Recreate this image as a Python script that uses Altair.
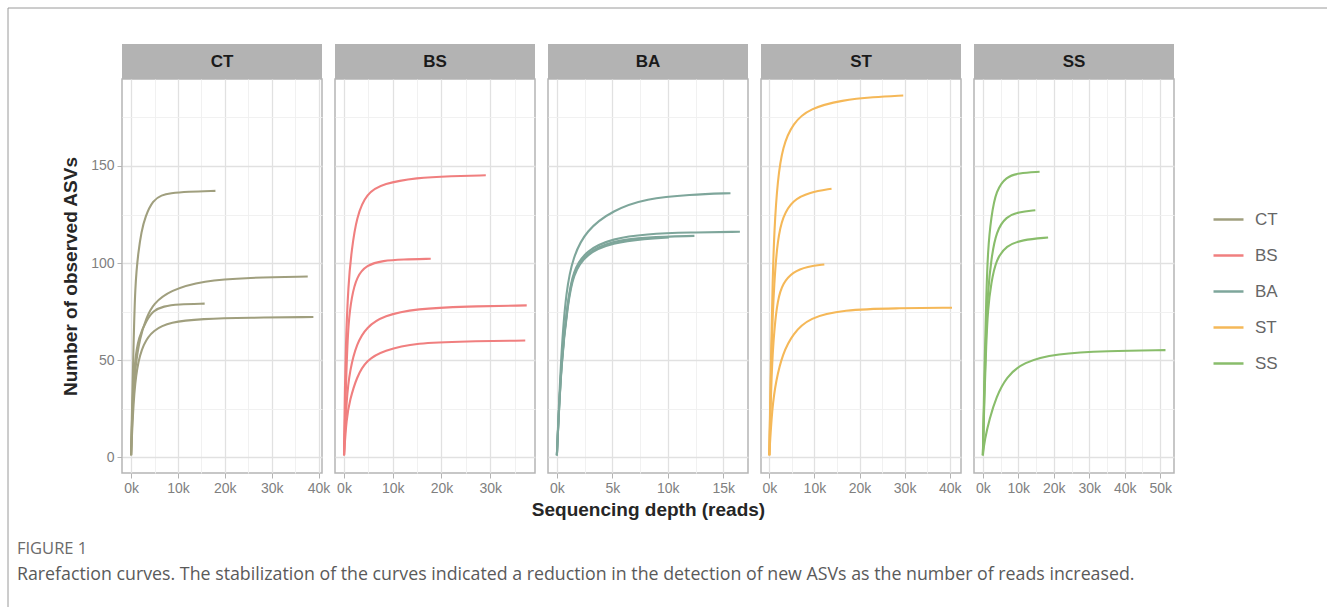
import altair as alt
import pandas as pd

groups = ["CT", "BS", "BA", "ST", "SS"]
colors = ["#a09f7e", "#f07f7f", "#7ea69b", "#f5b858", "#89bd6b"]

# ---- rarefaction curves: depth (thousand reads) and observed ASVs ----
ct1_k = [0, 0.2, 0.5, 0.85, 1.55, 2.2, 3.0, 4.7, 6.5, 8.3, 12, 18.0]
ct1_v = [1, 25, 55, 89, 106, 116, 124, 132.5, 135, 136, 136.8, 137.2]
ct2_k = [0, 0.3, 0.85, 1.9, 3.3, 4.7, 8.3, 15.4, 25, 37.7]
ct2_v = [1, 25, 46.5, 62, 72, 79, 86, 91, 92.5, 93.1]
ct3_k = [0, 0.3, 0.8, 1.6, 3.3, 4.7, 6.9, 10, 15.7]
ct3_v = [1, 30, 50, 62, 70.5, 75.5, 77.8, 78.8, 79.1]
ct4_k = [0, 0.5, 1.2, 2.6, 4.7, 8.3, 15, 25, 38.9]
ct4_v = [1, 29, 46.5, 58.6, 65.5, 69.7, 71.3, 71.9, 72.2]

bs1_k = [0, 0.15, 0.35, 0.88, 1.56, 2.6, 4.6, 8.1, 14.9, 22, 29.1]
bs1_v = [1, 30, 57, 89.5, 106.7, 124, 136, 141, 144, 144.8, 145.2]
bs2_k = [0, 0.5, 0.88, 1.56, 2.6, 4.6, 8, 12, 17.8]
bs2_v = [1, 46.5, 69, 82.6, 93, 99, 101.3, 101.9, 102.2]
bs3_k = [0, 0.5, 1.2, 2.6, 4.6, 8.1, 14.9, 25, 37.5]
bs3_v = [1, 30, 45, 58.6, 67, 73, 76.6, 77.7, 78.2]
bs4_k = [0, 0.5, 1.2, 2.6, 4.6, 8.1, 14.9, 25, 37.2]
bs4_v = [1, 20, 29.4, 41.4, 50, 55, 59, 59.7, 60.1]

ba1_k = [0, 0.39, 0.84, 1.44, 2.64, 5.05, 8.05, 12, 15.65]
ba1_v = [1, 55, 86, 103, 117, 127.3, 133.3, 135.3, 136]
ba2_k = [0, 0.4, 1.0, 1.44, 2.64, 5.05, 8, 12, 16.5]
ba2_v = [1, 52, 81, 96, 106.7, 112.7, 115, 115.8, 116.1]
ba3_k = [0, 0.4, 1.0, 1.44, 2.64, 5.05, 8, 12.4]
ba3_v = [1, 51, 80, 95, 105.5, 111.5, 113.3, 114]
ba4_k = [0, 0.4, 1.0, 1.44, 2.64, 5.05, 8, 10.1]
ba4_v = [1, 50, 79, 94, 105, 110.5, 112.6, 113.2]

st1_k = [0, 0.4, 0.74, 1.1, 1.84, 2.95, 5.2, 8.9, 16.3, 23, 29.7]
st1_v = [1, 55, 91, 117, 142.8, 160, 172, 179.7, 184, 185.5, 186.3]
st2_k = [0, 0.5, 1.1, 1.84, 2.95, 5.2, 8.9, 13.8]
st2_v = [1, 60, 91, 112, 124, 132.5, 136.5, 138.3]
st3_k = [0, 0.5, 1.1, 1.84, 2.95, 5.2, 8.5, 12.2]
st3_v = [1, 45, 66, 81, 89.5, 95.5, 98.3, 99.3]
st4_k = [0, 0.6, 1.5, 2.95, 5.2, 8.9, 16.3, 28, 40.5]
st4_v = [1, 25, 39.7, 53.3, 63.7, 72, 76, 76.8, 77]

ss1_k = [0, 0.5, 0.94, 1.4, 2.35, 3.75, 6.6, 10, 16]
ss1_v = [1, 50, 81, 106.7, 124, 137.6, 144.5, 146.3, 147]
ss2_k = [0, 0.5, 0.94, 1.4, 2.35, 3.75, 6.6, 10, 14.8]
ss2_v = [1, 40, 66, 85, 102, 116.5, 124, 126.3, 127.2]
ss3_k = [0, 0.5, 0.94, 1.4, 2.35, 3.75, 6.6, 11, 18.4]
ss3_v = [1, 35, 58, 76, 90, 102, 109, 112, 113.2]
ss4_k = [0, 0.5, 1.9, 3.75, 6.6, 11.3, 20.7, 35, 51.5]
ss4_v = [1, 9, 20, 31, 41.4, 49, 53.4, 54.8, 55.2]

curves = {
    "CT": [(ct1_k, ct1_v), (ct2_k, ct2_v), (ct3_k, ct3_v), (ct4_k, ct4_v)],
    "BS": [(bs1_k, bs1_v), (bs2_k, bs2_v), (bs3_k, bs3_v), (bs4_k, bs4_v)],
    "BA": [(ba1_k, ba1_v), (ba2_k, ba2_v), (ba3_k, ba3_v), (ba4_k, ba4_v)],
    "ST": [(st1_k, st1_v), (st2_k, st2_v), (st3_k, st3_v), (st4_k, st4_v)],
    "SS": [(ss1_k, ss1_v), (ss2_k, ss2_v), (ss3_k, ss3_v), (ss4_k, ss4_v)],
}

# x-axis domains (reads) and grid steps per panel
x_domains = {
    "CT": [-1940, 40740],
    "BS": [-1850, 39200],
    "BA": [-800, 17230],
    "ST": [-1840, 42500],
    "SS": [-2500, 53900],
}
x_major = {"CT": 10000, "BS": 10000, "BA": 5000, "ST": 10000, "SS": 10000}
x_max_tick = {"CT": 40000, "BS": 35000, "BA": 15000, "ST": 40000, "SS": 50000}

y_domain = [-8.1, 194.8]
y_ticks = [0, 25, 50, 75, 100, 125, 150, 175]

caption_head = "FIGURE 1"
caption_text = ("Rarefaction curves. The stabilization of the curves indicated a reduction "
                "in the detection of new ASVs as the number of reads increased.")

rows = []
for g in groups:
    for i, (ks, vs) in enumerate(curves[g]):
        for k, v in zip(ks, vs):
            rows.append({"group": g, "sample": f"{g}{i}", "reads": k * 1000, "asv": v})
df = pd.DataFrame(rows)

PW, PH = 200, 394
color_scale = alt.Scale(domain=groups, range=colors)


def cond(test, a, b):
    return {"condition": {"test": test, "value": a}, "value": b}


def panel(g, first=False, middle=False):
    step = x_major[g]
    minor = step / 2
    xv = []
    t = 0
    while t <= x_max_tick[g] + 1:
        xv.append(t)
        t += minor
    xtest = f"datum.value % {step} == 0"
    ytest = "datum.value % 50 == 0"
    x_axis = alt.Axis(
        values=xv,
        labelExpr=f"{xtest} ? (datum.value / 1000) + 'k' : ''",
        gridColor=cond(xtest, "#e1e1e1", "#efefef"),
        gridWidth=cond(xtest, 1.3, 0.9),
        tickOpacity=cond(xtest, 1, 0),
        title="Sequencing depth (reads)" if middle else None,
        titlePadding=5,
    )
    if first:
        y_axis = alt.Axis(
            values=y_ticks,
            labelExpr=f"{ytest} ? datum.label : ''",
            gridColor=cond(ytest, "#e1e1e1", "#efefef"),
            gridWidth=cond(ytest, 1.3, 0.9),
            tickOpacity=cond(ytest, 1, 0),
            title="Number of observed ASVs",
            titlePadding=10,
        )
    else:
        y_axis = alt.Axis(
            values=y_ticks,
            labels=False,
            ticks=False,
            gridColor=cond(ytest, "#e1e1e1", "#efefef"),
            gridWidth=cond(ytest, 1.3, 0.9),
            title=None,
        )
    lines = alt.Chart(df[df.group == g]).mark_line(
        strokeWidth=2.1, interpolate="basis"
    ).encode(
        x=alt.X("reads:Q", scale=alt.Scale(domain=x_domains[g], nice=False, zero=False), axis=x_axis),
        y=alt.Y("asv:Q", scale=alt.Scale(domain=y_domain, nice=False, zero=False), axis=y_axis),
        color=alt.Color(
            "group:N",
            scale=color_scale,
            legend=alt.Legend(
                title=None,
                orient="none",
                legendX=1090,
                legendY=124,
                symbolType="stroke",
                symbolSize=900,
                symbolStrokeWidth=2.5,
                labelFontSize=17,
                labelFont="Liberation Sans",
                labelColor="#666666",
                labelOffset=10,
                rowPadding=11,
                padding=0,
            ),
        ),
        detail="sample:N",
    )
    hdr = pd.DataFrame({"label": [g]})
    strip = alt.Chart(hdr).mark_rect(color="#b3b3b3").encode(
        x=alt.value(0), x2=alt.value(PW), y=alt.value(-35), y2=alt.value(0)
    )
    strip_text = alt.Chart(hdr).mark_text(
        font="Liberation Sans", fontSize=17, fontWeight="bold", color="#1a1a1a"
    ).encode(x=alt.value(PW / 2), y=alt.value(-17), text="label:N")
    layers = [lines, strip, strip_text]
    if first:
        one = pd.DataFrame({"a": [0]})
        top_line = alt.Chart(one).mark_rule(color="#9a9a9a", strokeWidth=1).encode(
            x=alt.value(-114), x2=alt.value(1205), y=alt.value(-71)
        )
        left_line = alt.Chart(one).mark_rule(color="#9a9a9a", strokeWidth=1).encode(
            x=alt.value(-114), y=alt.value(-71), y2=alt.value(528)
        )
        cap1 = alt.Chart(pd.DataFrame({"t": [caption_head]})).mark_text(
            align="left", baseline="alphabetic", font="Open Sans", fontSize=16.5, color="#6b6b6b"
        ).encode(x=alt.value(-105), y=alt.value(475), text="t:N")
        cap2 = alt.Chart(pd.DataFrame({"t": [caption_text]})).mark_text(
            align="left", baseline="alphabetic", font="Open Sans", fontSize=17.8, color="#5a5a5a"
        ).encode(x=alt.value(-105), y=alt.value(501), text="t:N")
        layers += [top_line, left_line, cap1, cap2]
    return alt.layer(*layers).properties(width=PW, height=PH)


panels = [panel(g, first=(i == 0), middle=(g == "BA")) for i, g in enumerate(groups)]

chart = alt.hconcat(*panels, spacing=13, bounds="flush").resolve_scale(
    x="independent", y="independent", color="shared"
).properties(
    padding={"left": 6, "top": 6, "right": 0, "bottom": 0},
    background="white",
).configure_view(
    stroke="#b5b5b5", strokeWidth=1.5
).configure_axis(
    domain=False,
    labelFont="Liberation Sans",
    labelFontSize=14,
    labelColor="#7f7f7f",
    tickColor="#b3b3b3",
    tickSize=5,
    labelPadding=3,
    titleFont="Liberation Sans",
    titleFontSize=19,
    titleFontWeight="bold",
    titleColor="#262626",
)

chart.save("out.html", embed_options={"renderer": "svg", "actions": False})
